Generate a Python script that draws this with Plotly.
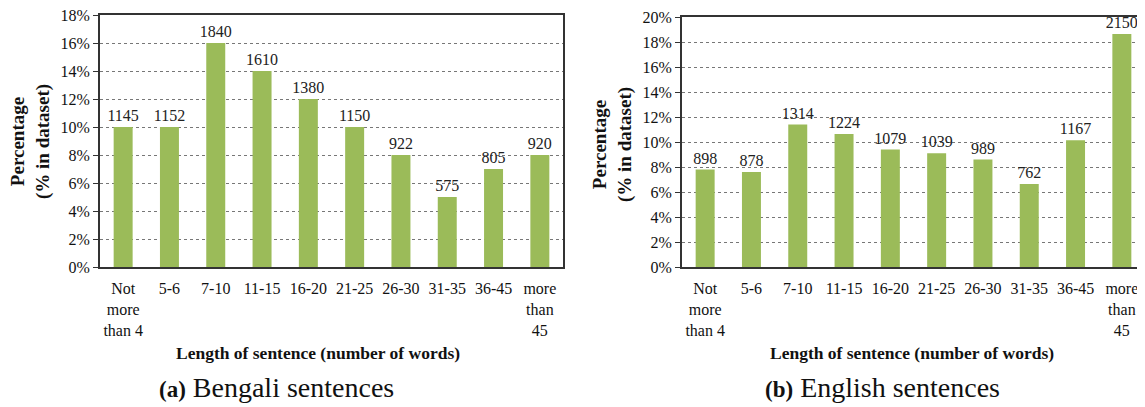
import plotly.graph_objects as go

categories = ["Not<br>more<br>than 4", "5-6", "7-10", "11-15", "16-20", "21-25",
              "26-30", "31-35", "36-45", "more<br>than<br>45"]
bengali_pct = [10, 10, 16, 14, 12, 10, 8, 5, 7, 8]
bengali_counts = [1145, 1152, 1840, 1610, 1380, 1150, 922, 575, 805, 920]
english_pct = [7.8, 7.6, 11.4, 10.65, 9.4, 9.1, 8.6, 6.65, 10.15, 18.65]
english_counts = [898, 878, 1314, 1224, 1079, 1039, 989, 762, 1167, 2150]

FONT = "Liberation Serif, Times New Roman, serif"
BAR = "#9BBB59"
W, H = 1145, 407
OFF = 8  # page body margin of the browser

def px_x(v):
    return (v - OFF) / W

def px_y(v):
    return 1 - (v - OFF) / H

fig = go.Figure()
fig.add_trace(go.Bar(x=categories, y=bengali_pct, text=[str(c) for c in bengali_counts],
                     textposition="outside", constraintext="none", cliponaxis=False,
                     textfont=dict(family=FONT, size=16, color="#222"),
                     marker=dict(color=BAR, line=dict(width=0)),
                     xaxis="x", yaxis="y", showlegend=False, hoverinfo="skip"))
fig.add_trace(go.Bar(x=categories, y=english_pct, text=[str(c) for c in english_counts],
                     textposition="outside", constraintext="none", cliponaxis=False,
                     textfont=dict(family=FONT, size=16, color="#222"),
                     marker=dict(color=BAR, line=dict(width=0)),
                     xaxis="x2", yaxis="y2", showlegend=False, hoverinfo="skip"))

xcommon = dict(showline=True, linecolor="#333", linewidth=2, mirror=True,
               showgrid=False, ticks="outside", ticklen=6, tickcolor="rgba(0,0,0,0)",
               tickfont=dict(family=FONT, size=16, color="#111"), tickangle=0,
               ticklabeloverflow="allow", automargin=False, fixedrange=True)
ycommon = dict(showline=True, linecolor="#333", linewidth=2, mirror=True,
               showgrid=True, gridcolor="#777", griddash="dot", gridwidth=1,
               ticks="outside", ticklen=5, tickcolor="#333", dtick=2, ticksuffix="%",
               tickfont=dict(family=FONT, size=16, color="#111"), zeroline=False,
               ticklabeloverflow="allow", automargin=False, fixedrange=True)

fig.update_layout(
    width=W, height=H, margin=dict(l=0, r=0, t=0, b=0, autoexpand=False),
    paper_bgcolor="white", plot_bgcolor="white", bargap=0.59,
    xaxis=dict(domain=[px_x(100), px_x(563)], anchor="y", **xcommon),
    yaxis=dict(domain=[px_y(267), px_y(15)], anchor="x", range=[0, 18], **ycommon),
    xaxis2=dict(domain=[px_x(682), px_x(1145)], anchor="y2", **xcommon),
    yaxis2=dict(domain=[px_y(267), px_y(17)], anchor="x2", range=[0, 20], **ycommon),
)

ann = []
# y axis titles
for xc, yc in [(31, 142), (613, 145)]:
    ann.append(dict(text="<b>Percentage<br>(% in dataset)</b>", x=px_x(xc), y=px_y(yc),
                    xref="paper", yref="paper", xanchor="center", yanchor="middle",
                    textangle=-90, showarrow=False,
                    font=dict(family=FONT, size=19, color="#111")))
# x axis titles
for xc in [318, 912]:
    ann.append(dict(text="<b>Length of sentence (number of words)</b>", x=px_x(xc), y=px_y(353),
                    xref="paper", yref="paper", xanchor="center", yanchor="middle",
                    showarrow=False, font=dict(family=FONT, size=17.5, color="#111")))
# captions
for xc, lab, name in [(276, "(a)", "Bengali sentences"), (882, "(b)", "English sentences")]:
    ann.append(dict(text=f"<b><span style='font-size:23px'>{lab}</span></b> {name}",
                    x=px_x(xc), y=px_y(387), xref="paper", yref="paper",
                    xanchor="center", yanchor="middle", showarrow=False,
                    font=dict(family=FONT, size=28, color="#111")))
fig.update_layout(annotations=ann)

fig.write_html("out.html")
